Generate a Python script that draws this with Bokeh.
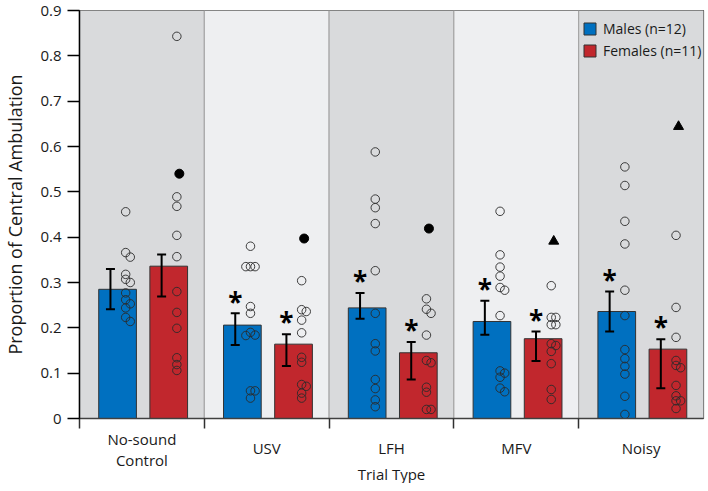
from bokeh.plotting import figure
from bokeh.layouts import column
from bokeh.models import Range1d, FixedTicker, Legend, LegendItem
from bokeh.core.properties import value
from bokeh.embed import file_html
from bokeh.resources import INLINE

# ---------------- data ----------------
categories = ["No-sound Control", "USV", "LFH", "MFV", "Noisy"]
category_lines = [["No-sound", "Control"], ["USV"], ["LFH"], ["MFV"], ["Noisy"]]

male_mean = [0.285, 0.206, 0.244, 0.214, 0.236]
male_err_hi = [0.330, 0.232, 0.277, 0.260, 0.280]
male_err_lo = [0.241, 0.162, 0.220, 0.185, 0.192]
female_mean = [0.336, 0.164, 0.145, 0.176, 0.153]
female_err_hi = [0.362, 0.186, 0.169, 0.192, 0.175]
female_err_lo = [0.269, 0.116, 0.086, 0.127, 0.067]

male_sig = [False, True, True, True, True]
female_sig = [False, True, True, True, True]

male_points = [
    [0.456, 0.366, 0.356, 0.318, 0.307, 0.300, 0.277, 0.262, 0.253, 0.244, 0.223, 0.214],
    [0.380, 0.335, 0.335, 0.335, 0.247, 0.232, 0.190, 0.184, 0.183, 0.061, 0.061, 0.045],
    [0.588, 0.484, 0.465, 0.430, 0.326, 0.232, 0.165, 0.149, 0.086, 0.066, 0.041, 0.026],
    [0.457, 0.361, 0.334, 0.314, 0.289, 0.283, 0.227, 0.105, 0.100, 0.091, 0.067, 0.059],
    [0.555, 0.514, 0.435, 0.385, 0.283, 0.227, 0.152, 0.132, 0.115, 0.098, 0.049, 0.009],
]
female_points = [
    [0.843, 0.489, 0.468, 0.404, 0.357, 0.280, 0.234, 0.199, 0.134, 0.119, 0.106],
    [0.304, 0.240, 0.236, 0.217, 0.189, 0.135, 0.124, 0.075, 0.071, 0.056, 0.045],
    [0.264, 0.241, 0.232, 0.184, 0.128, 0.123, 0.069, 0.058, 0.020, 0.020],
    [0.293, 0.223, 0.223, 0.207, 0.207, 0.165, 0.161, 0.148, 0.121, 0.064, 0.042],
    [0.404, 0.245, 0.179, 0.128, 0.117, 0.112, 0.073, 0.050, 0.039, 0.039, 0.022],
]
# extra female markers (filled circle / triangle)
female_special = [0.540, 0.397, 0.419, 0.391, 0.644]
female_special_marker = ["circle", "circle", "circle", "triangle", "triangle"]

y_ticks = [0, 0.1, 0.2, 0.3, 0.4, 0.5, 0.6, 0.7, 0.8, 0.9]
x_title = "Trial Type"
y_title = "Proportion of Central Ambulation"
legend_labels = ["Males (n=12)", "Females (n=11)"]

# ---------------- style ----------------
FONT = "Open Sans"
TXT = "#1a1a1a"
BLUE = "#0070C0"
RED = "#C1272D"
PANEL_DARK = "#D9DADC"
PANEL_LIGHT = "#EEEFF1"
FW, FH = 624, 408
LEFT, RIGHT, TOP, BOTTOM = 74, 2, 10, 12
STRIP_H = 483 - (TOP + FH + BOTTOM)
PX_X = FW / 5.0
PX_Y = FH / 0.9
MALE_OFF, FEMALE_OFF = 0.305, 0.715
BAR_W = 0.302

n = len(categories)

p = figure(frame_width=FW, frame_height=FH, x_range=Range1d(0, n), y_range=Range1d(0, 0.9),
           output_backend="svg", toolbar_location=None,
           min_border_left=LEFT, min_border_right=RIGHT, min_border_top=TOP, min_border_bottom=BOTTOM)
p.xgrid.visible = False
p.ygrid.visible = False
p.outline_line_color = "#404040"
p.outline_line_width = 1.2
p.background_fill_color = "white"

# panel backgrounds
p.quad(left=[i for i in range(n)], right=[i + 1 for i in range(n)], bottom=0, top=0.9,
       fill_color=[PANEL_DARK if i % 2 == 0 else PANEL_LIGHT for i in range(n)],
       line_color="#A0A0A0", line_width=1)

mx = [i + MALE_OFF for i in range(n)]
fx = [i + FEMALE_OFF for i in range(n)]

male_bars = p.vbar(x=mx, top=male_mean, bottom=0, width=BAR_W, fill_color=BLUE,
                   line_color="#333333", line_width=1)
female_bars = p.vbar(x=fx, top=female_mean, bottom=0, width=BAR_W, fill_color=RED,
                     line_color="#333333", line_width=1)


def swarm(vals, base, d=4.6):
    placed = []
    xs = []
    cands = [0]
    for j in range(1, 10):
        cands += [j, -j]
    for v in vals:
        ox = 0
        for c in cands:
            ox = c * d
            if all((ox - qx) ** 2 + ((v - qv) * PX_Y) ** 2 >= d * d for qx, qv in placed):
                break
        placed.append((ox, v))
        xs.append(base + ox / PX_X)
    return xs


px, py = [], []
for i in range(n):
    px += swarm(male_points[i], mx[i] + 0.065)
    py += male_points[i]
    px += swarm(female_points[i], fx[i] + 0.065)
    py += female_points[i]
p.scatter(px, py, marker="circle", size=8.5, fill_alpha=0, line_color="#2a2a2a", line_width=0.9)

# special markers
sc = [fx[i] + 0.085 for i in range(n) if female_special_marker[i] == "circle"]
sv = [female_special[i] for i in range(n) if female_special_marker[i] == "circle"]
tc = [fx[i] + 0.085 for i in range(n) if female_special_marker[i] == "triangle"]
tv = [female_special[i] for i in range(n) if female_special_marker[i] == "triangle"]
p.scatter(sc, sv, marker="circle", size=9, fill_color="black", line_color="black")
p.scatter(tc, tv, marker="triangle", size=10, fill_color="black", line_color="black")

# error bars
ex = [x - 0.057 for x in mx] + [x - 0.057 for x in fx]
elo = male_err_lo + female_err_lo
ehi = male_err_hi + female_err_hi
p.segment(x0=ex, y0=elo, x1=ex, y1=ehi, line_color="black", line_width=2)
cap = 0.036
p.segment(x0=[x - cap for x in ex], y0=ehi, x1=[x + cap for x in ex], y1=ehi, line_color="black", line_width=2)
p.segment(x0=[x - cap for x in ex], y0=elo, x1=[x + cap for x in ex], y1=elo, line_color="black", line_width=2)

# significance asterisks
sig = male_sig + female_sig
ax = [ex[k] for k in range(len(ex)) if sig[k]]
ay = [ehi[k] + 0.026 for k in range(len(ex)) if sig[k]]
p.text(ax, ay, text=["*"] * len(ax), text_font=value(FONT), text_font_size="26px",
       text_font_style="bold", text_align="center", text_baseline="middle", text_color="black")

# y axis
p.yaxis.ticker = FixedTicker(ticks=y_ticks)
p.yaxis.major_label_overrides = {0: "0"}
p.yaxis.major_tick_out = 12
p.yaxis.major_tick_in = 0
p.yaxis.minor_tick_line_color = None
p.yaxis.major_label_standoff = 6
p.yaxis.axis_line_color = "black"
p.yaxis.axis_line_width = 1.5
p.yaxis.major_tick_line_width = 1.5
p.yaxis.major_label_text_font = FONT
p.yaxis.major_label_text_font_size = "15px"
p.yaxis.major_label_text_color = TXT
p.yaxis.axis_label = y_title
p.yaxis.axis_label_text_font = FONT
p.yaxis.axis_label_text_font_size = "18px"
p.yaxis.axis_label_text_font_style = "normal"
p.yaxis.axis_label_text_color = TXT
p.yaxis.axis_label_standoff = 10

# x axis: only (minor) ticks at the panel boundaries, no labels
p.xaxis.ticker = FixedTicker(ticks=[], minor_ticks=[i for i in range(n)])
p.xaxis.major_tick_line_color = None
p.xaxis.minor_tick_out = 10
p.xaxis.minor_tick_in = 0
p.xaxis.minor_tick_line_color = "#303030"
p.xaxis.minor_tick_line_width = 1.5
p.xaxis.axis_line_color = "#404040"
p.xaxis.axis_line_width = 1.5

legend = Legend(items=[LegendItem(label=legend_labels[0], renderers=[male_bars]),
                       LegendItem(label=legend_labels[1], renderers=[female_bars])],
                location=(503, 358), padding=0, margin=0, spacing=3,
                glyph_width=15, glyph_height=15, label_standoff=6,
                label_text_font=FONT, label_text_font_size="14px", label_text_color=TXT,
                background_fill_alpha=0, border_line_alpha=0)
p.add_layout(legend)

# ---------------- category strip below the plot ----------------
p2 = figure(frame_width=FW, frame_height=STRIP_H, x_range=p.x_range, y_range=Range1d(-STRIP_H, 0),
            output_backend="svg", toolbar_location=None, x_axis_location=None, y_axis_location=None,
            min_border_left=LEFT, min_border_right=RIGHT, min_border_top=0, min_border_bottom=0)
p2.xgrid.visible = False
p2.ygrid.visible = False
p2.outline_line_color = None

lx, ly, lt = [], [], []
for i, lines in enumerate(category_lines):
    offs = [-8, -29] if len(lines) == 2 else [-17]
    for t, o in zip(lines, offs):
        lx.append(i + 0.5)
        ly.append(o)
        lt.append(t)
p2.text(lx, ly, text=lt, text_align="center", text_baseline="middle", text_font=value(FONT),
        text_font_size="15px", text_color=TXT)
p2.text([n / 2.0], [-43], text=[x_title], text_align="center", text_baseline="middle",
        text_font=value(FONT), text_font_size="15px", text_color=TXT)

layout = column(p, p2, spacing=0)
open("out.html", "w").write(file_html(layout, INLINE))
